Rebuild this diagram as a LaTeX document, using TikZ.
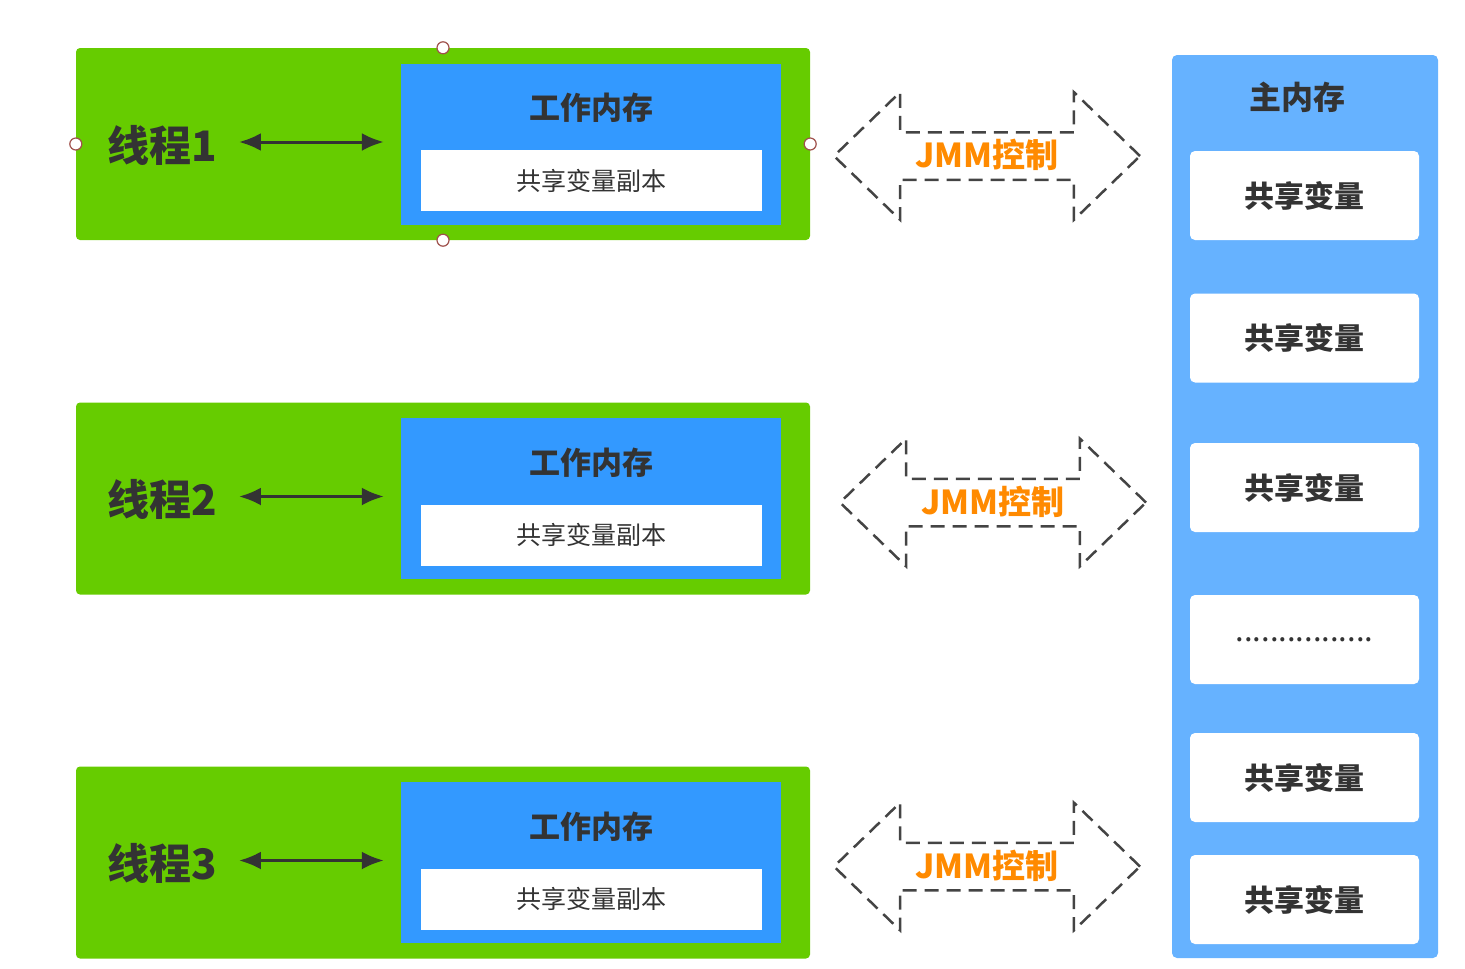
\documentclass[tikz,border=0pt]{standalone}
\usepackage{fontspec}
\setmainfont{Noto Sans CJK SC}
\usetikzlibrary{arrows.meta,shapes.arrows}

\definecolor{threadgreen}{HTML}{66CC00}
\definecolor{workblue}{HTML}{3399FF}
\definecolor{mainblue}{HTML}{66B2FF}
\definecolor{jmmorange}{HTML}{FF8A00}
\definecolor{txtgray}{HTML}{333333}
\definecolor{dashgray}{HTML}{444444}
\definecolor{handlered}{HTML}{A0524D}

\tikzset{
  thread/.style={fill=threadgreen,rounded corners=4pt,minimum width=734pt,minimum height=192pt,inner sep=0pt},
  work/.style={fill=workblue,minimum width=380pt,minimum height=161pt,inner sep=0pt},
  worklabel/.style={text=txtgray,font=\bfseries\fontsize{31}{36}\selectfont},
  copybox/.style={fill=white,minimum width=341pt,minimum height=61pt,inner sep=0pt,text=txtgray,font=\fontsize{25}{30}\selectfont},
  threadlabel/.style={anchor=west,inner sep=0pt,text=txtgray,font=\bfseries\fontsize{42}{48}\selectfont},
  link/.style={{Latex[length=22pt,width=18pt]}-{Latex[length=22pt,width=18pt]},line width=3pt,draw=txtgray,shorten <=22pt,shorten >=17pt},
  jmm/.style={double arrow,draw=dashgray,line width=2.5pt,dash pattern=on 14pt off 8pt,double arrow tip angle=88,
    double arrow head extend=40pt,minimum height=306pt,inner xsep=0pt,inner ysep=0pt,text height=34pt,text depth=11pt,
    text=jmmorange,font=\bfseries\fontsize{33}{38}\selectfont},
  mainmem/.style={fill=mainblue,rounded corners=5pt,minimum width=266pt,minimum height=903pt,inner sep=0pt},
  varbox/.style={fill=white,rounded corners=5pt,minimum width=229pt,minimum height=89pt,inner sep=0pt,text=txtgray,font=\bfseries\fontsize{30}{36}\selectfont},
  handlept/.style={circle,draw=handlered,fill=white,line width=1.2pt,minimum size=12pt,inner sep=0pt}
}

\begin{document}
\begin{tikzpicture}[x=1pt,y=-1pt]
  \useasboundingbox (0,0) rectangle (1465,969);
  % threads with their working memory
  \foreach \i/\y in {1/144,2/498.5,3/862.5} {
    \node[thread] (g\i) at (443,\y) {};
    \node[work] (w\i) at (591,\y) {};
    \node[worklabel] (wl\i) at (591,\y-36) {工作内存};
    \node[copybox] (c\i) at (591.5,\y+36.5) {共享变量副本};
    \node[threadlabel] (t\i) at (107,\y+1) {线程\i};
    \draw[link] ([yshift=3pt]t\i.east) -- ([yshift=3pt]t\i.east -| w\i.west);
  }
  % selection handles
  \foreach \a in {north,west,east,south}
    \node[handlept] at (g1.\a) {};
  % JMM control
  \node[jmm] (j1) at (987,156) {JMM控制};
  \node[jmm] (j2) at (993,502.5) {JMM控制};
  \node[jmm] (j3) at (987,866.5) {JMM控制};
  % main memory
  \node[mainmem] (m) at (1305,506.5) {};
  \node[text=txtgray,font=\bfseries\fontsize{32}{38}\selectfont] (ml) at (1297,97) {主内存};
  \node[varbox] (v1) at (1304.5,195.5) {共享变量};
  \node[varbox] (v2) at (1304.5,338) {共享变量};
  \node[varbox] (v3) at (1304.5,487.5) {共享变量};
  \node[varbox,font=\fontsize{31}{36}\selectfont] (v4) at (1304.5,639.5) {................};
  \node[varbox] (v5) at (1304.5,777.5) {共享变量};
  \node[varbox] (v6) at (1304.5,899.5) {共享变量};
\end{tikzpicture}
\end{document}
